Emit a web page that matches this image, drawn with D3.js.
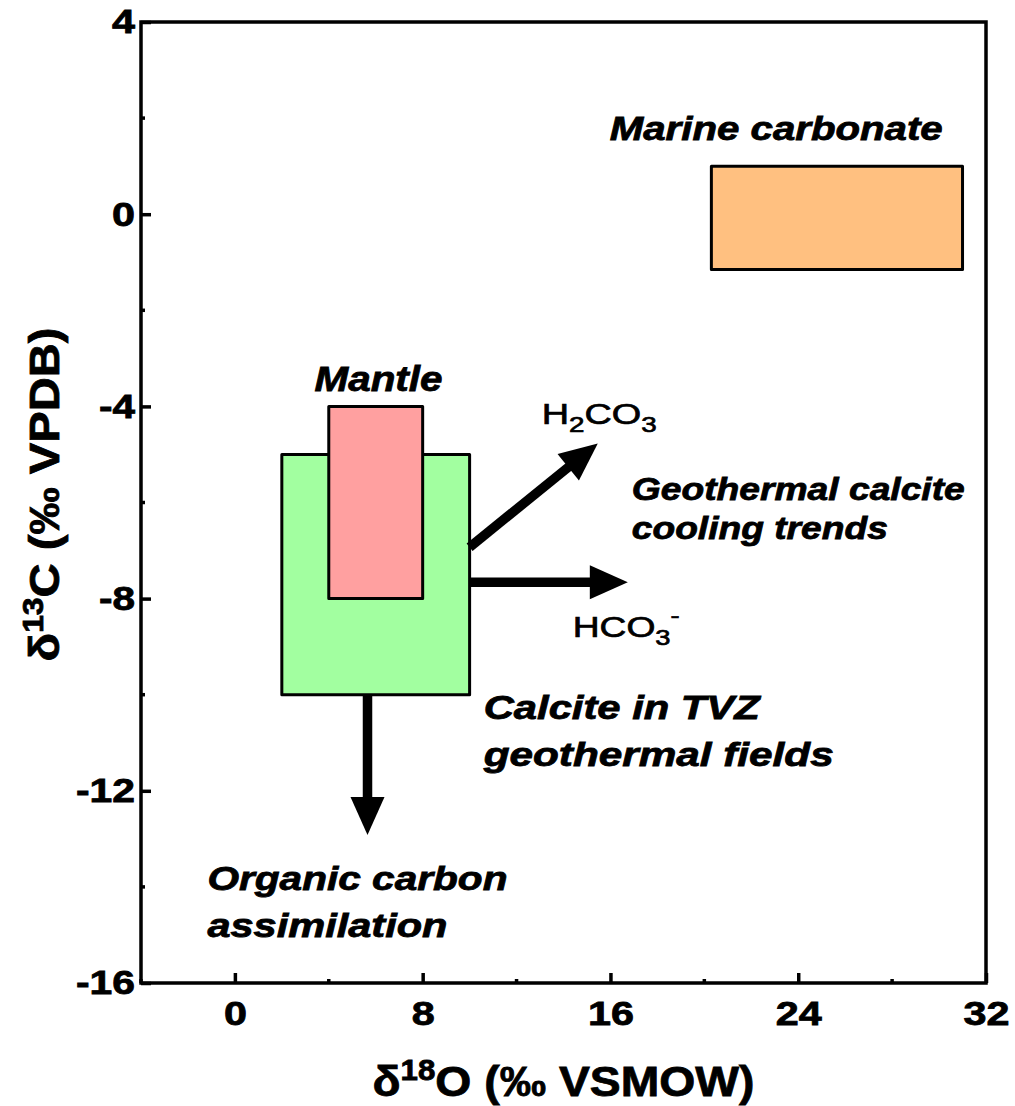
<!DOCTYPE html>
<html>
<head>
<meta charset="utf-8">
<script src="https://cdn.jsdelivr.net/npm/d3@7"></script>
<style>
  html, body { margin: 0; padding: 0; background: #fff; }
  svg { display: block; font-family: "Liberation Sans", Arial, sans-serif; }
</style>
</head>
<body>
<svg id="chart" width="1015" height="1106"></svg>
<script>
// Axis extents and ticks (δ18O ‰ VSMOW on x, δ13C ‰ VPDB on y)
const xDomain = [-4, 32];
const yDomain = [-16, 4];
const xMajorTicks = [0, 8, 16, 24, 32];
const xMinorTicks = [-4, 4, 12, 20, 28];
const yMajorTicks = [-16, -12, -8, -4, 0, 4];
const yMinorTicks = [-14, -10, -6, -2, 2];

// Isotope fields: name, x range, y range, fill
const fieldNames  = ["Calcite in TVZ geothermal fields", "Mantle", "Marine carbonate"];
const fieldX0     = [2, 4, 20.3];
const fieldX1     = [10, 8, 31];
const fieldY0     = [-10, -8, -1.15];
const fieldY1     = [-5, -4, 1];
const fieldColors = ["#a2ffa0", "#ffa0a0", "#ffc080"];

// Process trends: start and tip of each arrow
const arrowNames = ["H2CO3", "HCO3-", "Organic carbon"];
const arrowX0 = [10, 10, 5.65];
const arrowY0 = [-6.93, -7.66, -10];
const arrowX1 = [15.46, 16.74, 5.65];
const arrowY1 = [-4.77, -7.66, -12.92];

const svg = d3.select("#chart");
const margin = { left: 141, right: 29, top: 22, bottom: 123 };
const W = 1015, H = 1106;

const x = d3.scaleLinear().domain(xDomain).range([margin.left, W - margin.right]);
const y = d3.scaleLinear().domain(yDomain).range([H - margin.bottom, margin.top]);

// Fields
const fields = fieldNames.map((n, i) => ({
  name: n, x0: fieldX0[i], x1: fieldX1[i], y0: fieldY0[i], y1: fieldY1[i], fill: fieldColors[i]
}));
svg.append("g").selectAll("rect").data(fields).join("rect")
  .attr("x", d => x(d.x0))
  .attr("y", d => y(d.y1))
  .attr("width", d => x(d.x1) - x(d.x0))
  .attr("height", d => y(d.y0) - y(d.y1))
  .attr("fill", d => d.fill)
  .attr("stroke", "#000")
  .attr("stroke-width", 3)
  .attr("stroke-linejoin", "round");

// Arrows: thick stem plus a filled triangular head
const headLen = 38, headHalf = 17, stemW = 9.5;
const arrows = arrowNames.map((n, i) => {
  const sx = x(arrowX0[i]), sy = y(arrowY0[i]);
  const tx = x(arrowX1[i]), ty = y(arrowY1[i]);
  const len = Math.hypot(tx - sx, ty - sy);
  const ux = (tx - sx) / len, uy = (ty - sy) / len;
  const bx = tx - ux * headLen, by = ty - uy * headLen;
  return { name: n, sx, sy, tx, ty, bx, by, px: -uy, py: ux };
});
const ag = svg.append("g");
ag.selectAll("line").data(arrows).join("line")
  .attr("x1", d => d.sx).attr("y1", d => d.sy)
  .attr("x2", d => d.bx + (d.tx - d.bx) * 0.1).attr("y2", d => d.by + (d.ty - d.by) * 0.1)
  .attr("stroke", "#000")
  .attr("stroke-width", stemW);
ag.selectAll("path").data(arrows).join("path")
  .attr("d", d => {
    const p = d3.path();
    p.moveTo(d.tx, d.ty);
    p.lineTo(d.bx + d.px * headHalf, d.by + d.py * headHalf);
    p.lineTo(d.bx - d.px * headHalf, d.by - d.py * headHalf);
    p.closePath();
    return p.toString();
  })
  .attr("fill", "#000");

// Frame and ticks
const plotL = x(xDomain[0]), plotR = x(xDomain[1]);
const plotT = y(yDomain[1]), plotB = y(yDomain[0]);
svg.append("rect")
  .attr("x", plotL).attr("y", plotT)
  .attr("width", plotR - plotL).attr("height", plotB - plotT)
  .attr("fill", "none").attr("stroke", "#000").attr("stroke-width", 3.5);

// Heavy, wide tick numerals
const tickTextLen = s => [...s].reduce((a, c) => a + (c === "-" ? 13 : 23), 0);

const xAxis = svg.append("g").attr("transform", `translate(0,${plotB})`)
  .call(d3.axisBottom(x).tickValues(xMajorTicks).tickSize(-10).tickPadding(18).tickFormat(d => String(d)));
const yAxis = svg.append("g").attr("transform", `translate(${plotL},0)`)
  .call(d3.axisLeft(y).tickValues(yMajorTicks).tickSize(-10).tickPadding(6).tickFormat(d => String(d)));
[xAxis, yAxis].forEach(g => {
  g.select(".domain").remove();
  g.selectAll(".tick line").attr("stroke", "#000").attr("stroke-width", 3.5);
  g.selectAll(".tick text")
    .attr("fill", "#000")
    .attr("stroke", "#000").attr("stroke-width", 0.8)
    .attr("textLength", d => tickTextLen(String(d)))
    .attr("lengthAdjust", "spacingAndGlyphs")
    .style("font-size", "34px")
    .style("font-weight", "bold")
    .style("font-family", "'Liberation Sans', Arial, sans-serif");
});

svg.append("g").selectAll("line").data(xMinorTicks).join("line")
  .attr("x1", d => x(d)).attr("x2", d => x(d))
  .attr("y1", plotB).attr("y2", plotB - 4)
  .attr("stroke", "#000").attr("stroke-width", 3.5);
svg.append("g").selectAll("line").data(yMinorTicks).join("line")
  .attr("y1", d => y(d)).attr("y2", d => y(d))
  .attr("x1", plotL).attr("x2", plotL + 4)
  .attr("stroke", "#000").attr("stroke-width", 3.5);

// Axis titles
const xt = svg.append("text")
  .attr("x", (plotL + plotR) / 2).attr("y", 1096)
  .attr("text-anchor", "middle")
  .attr("textLength", 382).attr("lengthAdjust", "spacingAndGlyphs")
  .attr("stroke", "#000").attr("stroke-width", 0.8)
  .style("font-size", "43px").style("font-weight", "bold");
xt.append("tspan").text("δ");
xt.append("tspan").attr("dy", -16).style("font-size", "29px").text("18");
xt.append("tspan").attr("dy", 16).text("O (‰ VSMOW)");

const yt = svg.append("text")
  .attr("transform", `translate(59,${(plotT + plotB) / 2 - 8}) rotate(-90)`)
  .attr("text-anchor", "middle")
  .attr("textLength", 334).attr("lengthAdjust", "spacingAndGlyphs")
  .attr("stroke", "#000").attr("stroke-width", 0.8)
  .style("font-size", "43px").style("font-weight", "bold");
yt.append("tspan").text("δ");
yt.append("tspan").attr("dy", -16).style("font-size", "29px").text("13");
yt.append("tspan").attr("dy", 16).text("C (‰ VPDB)");

// Field and trend annotations (bold italic)
const noteLines = [
  { t: "Marine carbonate", x: 15.97, y: 1.54, size: 33, w: 333, anchor: "start" },
  { t: "Mantle", x: 6.12, y: -3.68, size: 35, w: 128, anchor: "middle" },
  { t: "Geothermal calcite", x: 16.91, y: -5.95, size: 32, w: 333, anchor: "start" },
  { t: "cooling trends", x: 16.91, y: -6.76, size: 32, w: 256, anchor: "start" },
  { t: "Calcite in TVZ", x: 10.6, y: -10.51, size: 34, w: 276, anchor: "start" },
  { t: "geothermal fields", x: 10.6, y: -11.49, size: 34, w: 350, anchor: "start" },
  { t: "Organic carbon", x: -1.17, y: -14.07, size: 34, w: 300, anchor: "start" },
  { t: "assimilation", x: -1.17, y: -15.05, size: 34, w: 240, anchor: "start" }
];
svg.append("g").selectAll("text").data(noteLines).join("text")
  .attr("x", d => x(d.x)).attr("y", d => y(d.y))
  .attr("text-anchor", d => d.anchor)
  .attr("textLength", d => d.w).attr("lengthAdjust", "spacingAndGlyphs")
  .attr("stroke", "#000").attr("stroke-width", 0.8)
  .style("font-size", d => d.size + "px")
  .style("font-weight", "bold").style("font-style", "italic")
  .text(d => d.t);

// Species labels with subscripts / superscripts
const h2 = svg.append("text").attr("x", x(13.07)).attr("y", y(-4.37))
  .attr("textLength", 115).attr("lengthAdjust", "spacingAndGlyphs")
  .attr("stroke", "#000").attr("stroke-width", 0.7)
  .style("font-size", "30px");
h2.append("tspan").text("H");
h2.append("tspan").attr("dy", 8).style("font-size", "22px").text("2");
h2.append("tspan").attr("dy", -8).text("CO");
h2.append("tspan").attr("dy", 8).style("font-size", "22px").text("3");

const hc = svg.append("text").attr("x", x(14.39)).attr("y", y(-8.8))
  .attr("textLength", 107).attr("lengthAdjust", "spacingAndGlyphs")
  .attr("stroke", "#000").attr("stroke-width", 0.7)
  .style("font-size", "30px");
hc.append("tspan").text("HCO");
hc.append("tspan").attr("dy", 8).style("font-size", "22px").text("3");
hc.append("tspan").attr("dy", -22).style("font-size", "22px").text("-");
</script>
</body>
</html>
